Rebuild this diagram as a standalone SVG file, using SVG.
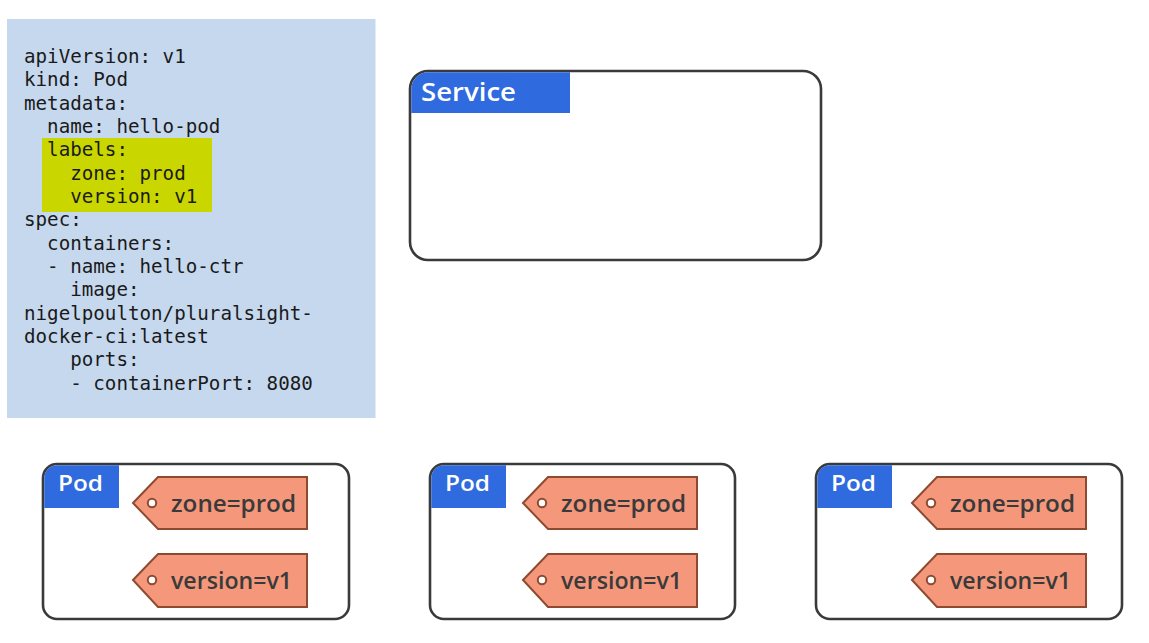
<svg xmlns="http://www.w3.org/2000/svg" width="1149" height="643" viewBox="0 0 1149 643">
<style>
.code{font-family:"DejaVu Sans Mono","Liberation Mono",monospace;font-size:19.2px;fill:#1a1a1a}
.box{fill:#fff;stroke:#3a3a3a;stroke-width:2.6}
.hdr{fill:#2f6ade}
.hdrtxt{font-family:"Open Sans","Noto Sans",sans-serif;font-weight:600;fill:#fff}
.tag{fill:#f4977b;stroke:#8c4b30;stroke-width:2}
.hole{fill:#fff;stroke:#8c4b30;stroke-width:2}
.tagtxt{font-family:"Open Sans","Noto Sans",sans-serif;font-weight:600;font-size:23px;fill:#3a3a3a}
</style>
<defs>
<g id="tags">
<path class="tag" d="M0,0 L25,-26 L174,-26 L174,26 L25,26 Z" transform="translate(0,503)"/>
<circle class="hole" cx="19" cy="503" r="4.2"/>
<text class="tagtxt" x="38" y="512" textLength="125" lengthAdjust="spacingAndGlyphs">zone=prod</text>
<path class="tag" d="M0,0 L25,-26 L174,-26 L174,27 L25,27 Z" transform="translate(0,580)"/>
<circle class="hole" cx="19" cy="580" r="4.2"/>
<text class="tagtxt" x="38" y="589" textLength="121" lengthAdjust="spacingAndGlyphs">version=v1</text>
</g>
</defs>
<rect width="1149" height="643" fill="#fff"/>
<g id="yaml">
<rect x="7" y="19" width="368.5" height="399" fill="#c6d8ee"/>
<rect x="42" y="138" width="170" height="74" fill="#c9d600"/>
<text class="code" x="24" y="63">apiVersion: v1</text>
<text class="code" x="24" y="86.3">kind: Pod</text>
<text class="code" x="24" y="109.6">metadata:</text>
<text class="code" x="24" y="133" xml:space="preserve">  name: hello-pod</text>
<text class="code" x="24" y="156.3" xml:space="preserve">  labels:</text>
<text class="code" x="24" y="179.6" xml:space="preserve">    zone: prod</text>
<text class="code" x="24" y="203" xml:space="preserve">    version: v1</text>
<text class="code" x="24" y="226.3">spec:</text>
<text class="code" x="24" y="249.6" xml:space="preserve">  containers:</text>
<text class="code" x="24" y="273" xml:space="preserve">  - name: hello-ctr</text>
<text class="code" x="24" y="296.3" xml:space="preserve">    image:</text>
<text class="code" x="24" y="319.6">nigelpoulton/pluralsight-</text>
<text class="code" x="24" y="343">docker-ci:latest</text>
<text class="code" x="24" y="366.3" xml:space="preserve">    ports:</text>
<text class="code" x="24" y="389.6" xml:space="preserve">    - containerPort: 8080</text>
</g>
<g id="service">
<rect class="box" x="410" y="71" width="411" height="189" rx="18"/>
<path class="hdr" d="M411.3,113 L411.3,89 A16.7,16.7 0 0 1 428,72.3 L570,72.3 L570,113 Z"/>
<text class="hdrtxt" x="421" y="101" font-size="25" textLength="95" lengthAdjust="spacingAndGlyphs">Service</text>
</g>
<g id="pod1">
<rect class="box" x="43" y="464" width="306" height="155" rx="14"/>
<path class="hdr" d="M44.3,508 L44.3,478 A12.7,12.7 0 0 1 57,465.3 L119,465.3 L119,508 Z"/>
<text class="hdrtxt" x="58" y="491" font-size="21" textLength="45" lengthAdjust="spacingAndGlyphs">Pod</text>
<use href="#tags" transform="translate(133,0)"/>
</g>
<g id="pod2">
<rect class="box" x="430" y="464" width="305" height="155" rx="14"/>
<path class="hdr" d="M431.3,508 L431.3,478 A12.7,12.7 0 0 1 444,465.3 L506,465.3 L506,508 Z"/>
<text class="hdrtxt" x="445" y="491" font-size="21" textLength="45" lengthAdjust="spacingAndGlyphs">Pod</text>
<use href="#tags" transform="translate(523,0)"/>
</g>
<g id="pod3">
<rect class="box" x="816" y="464" width="306" height="155" rx="14"/>
<path class="hdr" d="M817.3,508 L817.3,478 A12.7,12.7 0 0 1 830,465.3 L892,465.3 L892,508 Z"/>
<text class="hdrtxt" x="831" y="491" font-size="21" textLength="45" lengthAdjust="spacingAndGlyphs">Pod</text>
<use href="#tags" transform="translate(912,0)"/>
</g>
<g id="connectors"></g>
</svg>
